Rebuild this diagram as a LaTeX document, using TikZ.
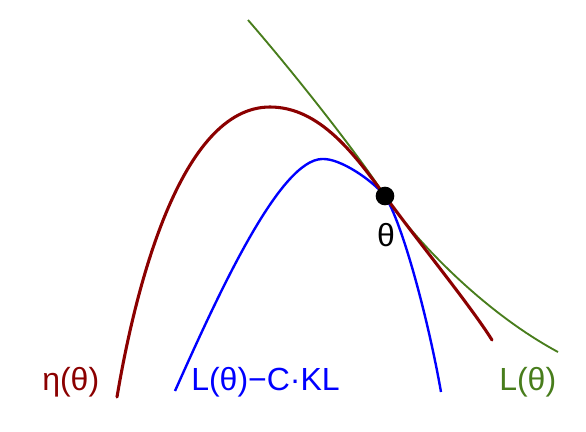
\documentclass[tikz,border=0pt]{standalone}
\usepackage{fontspec}
\setmainfont{Liberation Sans}
\begin{document}
\begin{tikzpicture}[x=0.75pt,y=-0.75pt,
  lab/.style={inner sep=0pt,anchor=base west,font=\fontsize{24}{27}\selectfont},
  etacurve/.style={draw=etared,line width=2.3pt,line cap=round,line join=round},
  klcurve/.style={draw=klblue,line width=1.8pt,line join=round},
  lcurve/.style={draw=lgreen,line width=1.4pt,line join=round}]
\definecolor{etared}{RGB}{139,0,0}
\definecolor{klblue}{RGB}{0,0,255}
\definecolor{lgreen}{RGB}{72,125,28}
\useasboundingbox (0,0) rectangle (586,432);
\coordinate (p) at (385,196);
% green L(theta)
\draw[lcurve] (248,20) .. controls (300,80) and (362,160) .. (p)
  .. controls (412,236) and (480,310) .. (558,352);
% blue L - C KL
\draw[klcurve] (175,391) .. controls (220,290) and (280,160) .. (322,159)
  .. controls (340,158) and (372,180) .. (p)
  .. controls (402,222) and (428,318) .. (441,392);
% red eta
\draw[etacurve] (117,397) .. controls (135,290) and (180,107) .. (270,107)
  .. controls (320,107) and (355,155) .. (p)
  .. controls (420,244) and (470,305) .. (492,340);
\node[circle,fill=black,inner sep=0pt,minimum size=14pt] (th) at (p) {};
\node[inner sep=0pt,font=\fontsize{24}{27}\selectfont] (thl) at (386,235) {θ};
\node[lab,text=etared] (eta) at (42,390) {η(θ)};
\node[lab,text=klblue] (kl) at (191,390) {L(θ)−C·KL};
\node[lab,text=lgreen] (L) at (499,390) {L(θ)};
\end{tikzpicture}
\end{document}
